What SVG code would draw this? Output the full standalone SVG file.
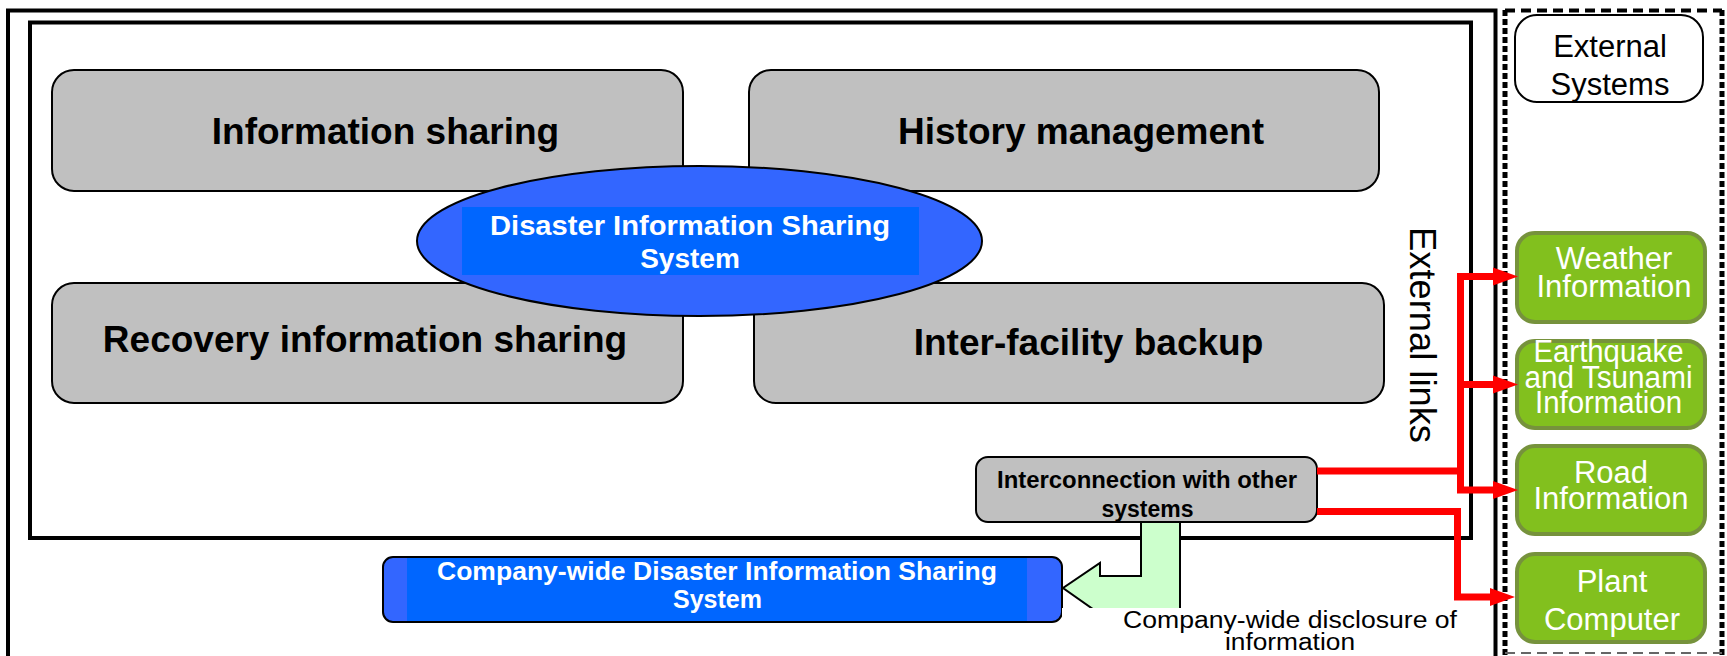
<svg xmlns="http://www.w3.org/2000/svg" width="1727" height="656" viewBox="0 0 1727 656">
<defs>
<style>
.frame{fill:none;stroke:#000;stroke-width:4}
.gbox{fill:#C0C0C0;stroke:#000;stroke-width:2}
.big{font-family:"Liberation Sans",Arial,sans-serif;font-weight:bold;font-size:37px;fill:#000;text-anchor:middle}
.wb{font-family:"Liberation Sans",Arial,sans-serif;font-weight:bold;fill:#fff;text-anchor:middle}
.green{fill:#82C01E;stroke:#76923C;stroke-width:4}
.gt{font-family:"Liberation Sans",Arial,sans-serif;font-size:31px;fill:#fff;text-anchor:middle}
.reg{font-family:"Liberation Sans",Arial,sans-serif;fill:#000;text-anchor:middle}
.red{fill:none;stroke:#FF0000;stroke-width:7;stroke-linejoin:miter}
</style>
<marker id="ah" markerUnits="userSpaceOnUse" markerWidth="26" markerHeight="20" refX="0" refY="10" orient="auto">
<path d="M0,1 L25,10 L0,19 Z" fill="#FF0000"/>
</marker>
</defs>
<rect width="1727" height="656" fill="#fff"/>

<g id="frames">
<rect class="frame" x="8" y="10.5" width="1487.5" height="700"/>
<rect class="frame" x="30" y="22.5" width="1441" height="515.5"/>
<line x1="1505" y1="10.5" x2="1722" y2="10.5" stroke="#000" stroke-width="4" stroke-dasharray="10 6"/>
<line x1="1505" y1="10" x2="1505" y2="656" stroke="#000" stroke-width="5" stroke-dasharray="6 3"/>
<line x1="1722" y1="10" x2="1722" y2="656" stroke="#000" stroke-width="5" stroke-dasharray="6 3"/>
<line x1="1505" y1="653" x2="1722" y2="653" stroke="#666" stroke-width="2" stroke-dasharray="10 6"/>
</g>

<g id="node-information-sharing">
<rect class="gbox" x="52" y="70" width="631" height="121" rx="22"/>
<text class="big" x="385.5" y="144">Information sharing</text>
</g>
<g id="node-history-management">
<rect class="gbox" x="749" y="70" width="630" height="121" rx="22"/>
<text class="big" x="1081" y="144">History management</text>
</g>
<g id="node-recovery-information-sharing">
<rect class="gbox" x="52" y="283" width="631" height="120" rx="22"/>
<text class="big" x="365" y="352">Recovery information sharing</text>
</g>
<g id="node-inter-facility-backup">
<rect class="gbox" x="754" y="283" width="630" height="120" rx="22"/>
<text class="big" x="1088.5" y="355">Inter-facility backup</text>
</g>

<g id="node-disaster-information-sharing-system">
<ellipse cx="699.5" cy="241" rx="282.5" ry="75" fill="#3366FF" stroke="#000" stroke-width="2"/>
<rect x="462" y="207" width="457" height="68" fill="#0066FF"/>
<text class="wb" font-size="28" x="690" y="235" textLength="400" lengthAdjust="spacingAndGlyphs">Disaster Information Sharing</text>
<text class="wb" font-size="28" x="690" y="268">System</text>
</g>

<g id="external-links-label">
<text class="reg" font-size="37" transform="translate(1410,335) rotate(90)" textLength="216" lengthAdjust="spacingAndGlyphs">External links</text>
</g>

<g id="node-interconnection">
<rect class="gbox" x="976" y="457" width="341" height="65" rx="12"/>
<text class="reg" font-weight="bold" font-size="23" x="1147" y="488" textLength="300" lengthAdjust="spacingAndGlyphs">Interconnection with other</text>
<text class="reg" font-weight="bold" font-size="23" x="1147.5" y="517">systems</text>
</g>

<g id="node-company-wide">
<rect x="383" y="557" width="679" height="65" rx="10" fill="#3366FF" stroke="#000" stroke-width="2"/>
<rect x="407" y="558" width="620" height="63" fill="#0066FF"/>
<text class="wb" font-size="25" x="717" y="580" textLength="560" lengthAdjust="spacingAndGlyphs">Company-wide Disaster Information Sharing</text>
<text class="wb" font-size="25" x="717.5" y="608">System</text>
</g>

<g id="node-external-systems">
<rect x="1515" y="15" width="188" height="87" rx="22" fill="#fff" stroke="#000" stroke-width="2"/>
<text class="reg" font-size="31" x="1610" y="57">External</text>
<text class="reg" font-size="31" x="1610" y="95">Systems</text>
</g>

<g id="node-weather">
<rect class="green" x="1517" y="233" width="188" height="89" rx="18"/>
<text class="gt" x="1614" y="269">Weather</text>
<text class="gt" x="1614" y="297">Information</text>
</g>
<g id="node-earthquake">
<rect class="green" x="1517" y="341" width="188" height="87" rx="18"/>
<text class="gt" font-size="26" x="1608.5" y="362" textLength="150" lengthAdjust="spacingAndGlyphs">Earthquake</text>
<text class="gt" font-size="26" x="1608.5" y="388" textLength="168" lengthAdjust="spacingAndGlyphs">and Tsunami</text>
<text class="gt" font-size="26" x="1608.5" y="413" textLength="147" lengthAdjust="spacingAndGlyphs">Information</text>
</g>
<g id="node-road">
<rect class="green" x="1517" y="446" width="188" height="88" rx="18"/>
<text class="gt" x="1611" y="483">Road</text>
<text class="gt" x="1611" y="509">Information</text>
</g>
<g id="node-plant">
<rect class="green" x="1517" y="554" width="188" height="88" rx="18"/>
<text class="gt" x="1612" y="592">Plant</text>
<text class="gt" x="1612" y="630">Computer</text>
</g>

<g id="connectors">
<path class="red" d="M1317,471 H1460.5"/>
<path class="red" d="M1460.5,276.5 V490 H1493" stroke-width="9" marker-end="url(#ah)"/>
<path class="red" d="M1457,276.5 H1493" marker-end="url(#ah)"/>
<path class="red" d="M1457,384.5 H1493" marker-end="url(#ah)"/>
<path class="red" d="M1317,511.5 H1457.5 V597 H1490" stroke-width="9" marker-end="url(#ah)"/>
<polygon points="1141,522 1141,576 1100,576 1100,563 1063,588 1100,614 1100,612 1180,612 1180,522" fill="#CCFFCC" stroke="#000" stroke-width="2" stroke-linejoin="miter"/>
<rect x="1062" y="608" width="398" height="48" fill="#fff"/>
<text class="reg" font-size="23" x="1290" y="628" textLength="334" lengthAdjust="spacingAndGlyphs">Company-wide disclosure of</text>
<text class="reg" font-size="23" x="1290" y="650" textLength="130" lengthAdjust="spacingAndGlyphs">information</text>
</g>
</svg>
